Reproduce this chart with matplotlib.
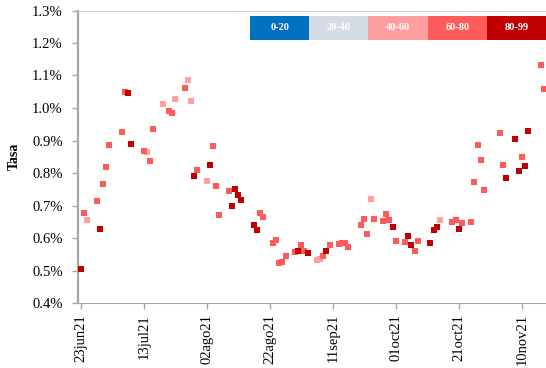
import matplotlib
matplotlib.use("Agg")
import matplotlib.pyplot as plt
from matplotlib.patches import Rectangle
import pandas as pd

plt.rcParams["font.family"] = ["Liberation Serif", "DejaVu Serif"]

# percentile groups and their colours
groups = ["0-20", "20-40", "40-60", "60-80", "80-99"]
group_colors = ["#0070C0", "#D6DCE5", "#FF9F9F", "#FF5B5B", "#C00000"]

# daily rate (%) by group
dates_4060 = ["2021-06-25", "2021-07-14", "2021-07-19", "2021-07-23", "2021-07-27",
              "2021-07-28", "2021-08-02", "2021-09-06", "2021-09-07", "2021-09-23",
              "2021-10-15"]
rate_4060 = [0.655, 0.864, 1.011, 1.027, 1.085, 1.023, 0.776, 0.531, 0.535, 0.720, 0.656]

dates_6080 = ["2021-06-24", "2021-06-28", "2021-06-30", "2021-07-01", "2021-07-02",
              "2021-07-06", "2021-07-07", "2021-07-13", "2021-07-15", "2021-07-16",
              "2021-07-21", "2021-07-22", "2021-07-26", "2021-07-30", "2021-08-04",
              "2021-08-05", "2021-08-06", "2021-08-09", "2021-08-19", "2021-08-20",
              "2021-08-23", "2021-08-24", "2021-08-25", "2021-08-26", "2021-08-27",
              "2021-08-30", "2021-09-01", "2021-09-02", "2021-09-08", "2021-09-10",
              "2021-09-13", "2021-09-14", "2021-09-15", "2021-09-16", "2021-09-20",
              "2021-09-21", "2021-09-22", "2021-09-24", "2021-09-27", "2021-09-28",
              "2021-09-29", "2021-10-01", "2021-10-04", "2021-10-07", "2021-10-08",
              "2021-10-19", "2021-10-20", "2021-10-22", "2021-10-25", "2021-10-26",
              "2021-10-27", "2021-10-28", "2021-10-29", "2021-11-03", "2021-11-04",
              "2021-11-10", "2021-11-16", "2021-11-17"]
rate_6080 = [0.677, 0.713, 0.765, 0.818, 0.886, 0.925, 1.048, 0.867, 0.837, 0.935,
             0.990, 0.984, 1.063, 0.810, 0.883, 0.760, 0.671, 0.745, 0.678, 0.665,
             0.586, 0.595, 0.522, 0.525, 0.546, 0.558, 0.580, 0.561, 0.546, 0.580,
             0.583, 0.586, 0.585, 0.571, 0.641, 0.659, 0.613, 0.659, 0.653, 0.675,
             0.656, 0.592, 0.589, 0.561, 0.592, 0.650, 0.656, 0.647, 0.650, 0.772,
             0.886, 0.840, 0.748, 0.922, 0.826, 0.849, 1.131, 1.060]

dates_8099 = ["2021-06-23", "2021-06-29", "2021-07-08", "2021-07-09", "2021-07-29",
              "2021-08-03", "2021-08-10", "2021-08-11", "2021-08-12", "2021-08-13",
              "2021-08-17", "2021-08-18", "2021-08-31", "2021-09-03", "2021-09-09",
              "2021-09-30", "2021-10-05", "2021-10-06", "2021-10-12", "2021-10-13",
              "2021-10-14", "2021-10-21", "2021-11-05", "2021-11-08", "2021-11-09",
              "2021-11-11", "2021-11-12", "2021-11-17"]
rate_8099 = [0.505, 0.627, 1.045, 0.889, 0.791, 0.824, 0.699, 0.751, 0.733, 0.717,
             0.641, 0.626, 0.561, 0.555, 0.561, 0.635, 0.607, 0.580, 0.586, 0.626,
             0.635, 0.629, 0.786, 0.904, 0.806, 0.821, 0.929, 1.220]

tick_dates = ["2021-06-23", "2021-07-13", "2021-08-02", "2021-08-22",
              "2021-09-11", "2021-10-01", "2021-10-21", "2021-11-10"]
tick_labels = ["23jun21", "13jul21", "02ago21", "22ago21",
               "11sep21", "01oct21", "21oct21", "10nov21"]
y_ticks = [0.4, 0.5, 0.6, 0.7, 0.8, 0.9, 1.0, 1.1, 1.2, 1.3]

W, H = 546, 368
fig = plt.figure(figsize=(W / 100, H / 100), dpi=100)
ax = fig.add_axes([78 / W, 1 - 303 / H, 1 - 78 / W, (303 - 10.5) / H])

series = [(dates_4060, rate_4060, group_colors[2]),
          (dates_6080, rate_6080, group_colors[3]),
          (dates_8099, rate_8099, group_colors[4])]
for d, v, c in series:
    ax.scatter(pd.to_datetime(d), v, marker="s", s=21, color=c, linewidths=0, zorder=3)

start = pd.Timestamp("2021-06-23")
ax.set_xlim(start - pd.Timedelta(hours=21), start + pd.Timedelta(days=147.7))
ax.set_ylim(0.4, 1.3)

ax.set_xticks(pd.to_datetime(tick_dates))
ax.set_xticklabels(tick_labels, rotation=90, fontsize=10.5)
ax.set_yticks(y_ticks)
ax.set_yticklabels([f"{t:.1f}%" for t in y_ticks], fontsize=10.5)
ax.tick_params(axis="both", length=4, width=1, color="#a6a6a6")
ax.tick_params(axis="y", pad=7)
ax.tick_params(axis="x", pad=4)

ax.set_ylabel("Tasa", fontsize=10, fontweight="bold", labelpad=8)

ax.spines["right"].set_visible(False)
ax.spines["left"].set_color("#a6a6a6")
ax.spines["left"].set_linewidth(1.6)
ax.spines["bottom"].set_color("#a6a6a6")
ax.spines["top"].set_color("#d0d0d0")

# colour key across the top right
x0, bw = 250, 59.2
for i, (g, c) in enumerate(zip(groups, group_colors)):
    left = (x0 + i * bw) / W
    fig.add_artist(Rectangle((left, 1 - 40 / H), bw / W, 24 / H,
                             transform=fig.transFigure, facecolor=c,
                             edgecolor="none", zorder=5))
    fig.text(left + bw / W / 2, 1 - 28 / H, g, ha="center", va="center",
             color="white", fontsize=7.5, fontweight="bold", zorder=6)

fig.savefig("out.png", dpi=100, facecolor="white")
